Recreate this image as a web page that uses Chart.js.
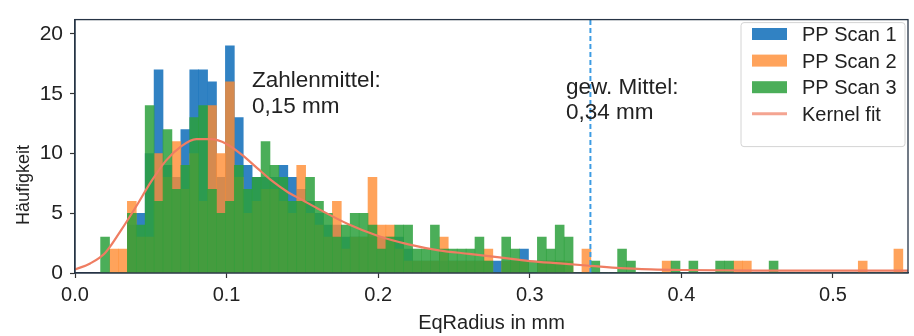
<!DOCTYPE html>
<html>
<head>
<meta charset="utf-8">
<script src="https://cdn.jsdelivr.net/npm/chart.js@4.4.0/dist/chart.umd.min.js"></script>
<style>
html, body { margin: 0; padding: 0; background: #fff; }
</style>
</head>
<body>
<canvas id="graph" width="914" height="336"></canvas>
<script>
// histogram bins (left edge of first bin, bin width in mm)
const binStart = 0.0169;
const binWidth = 0.00588;

const scan1 = [0,0,0,4,5,10,17,9,8,12,17,17,16,8,19,13,9,8,8,8,9,8,7,6,5,4,4,3,3,3,3,3,3,3,2,1,1,1,1,1,1,1,1,1,1,1,1,2,0,1,1,1,0,0,0,0,0,0,0,0,0,0,0,0,0,0,0,0,0,0,0,0,0,0,0,0,0,0,0,0,0,0,0,0,0,0,0,0,0,0,0];
const scan2 = [0,2,2,6,3,3,10,8,11,7,10,6,14,10,16,8,5,6,7,7,6,5,9,5,4,3,6,2,3,3,8,4,4,2,1,1,1,1,3,1,1,1,1,2,0,1,1,1,0,1,1,1,1,0,2,0,0,0,0,0,0,0,0,1,0,0,0,0,0,0,0,1,1,0,0,0,0,0,0,0,0,0,0,0,0,1,0,0,0,2,0];
const scan3 = [3,0,0,5,4,14,6,12,7,9,13,14,7,5,6,9,7,8,11,9,8,6,6,8,6,5,3,4,5,5,4,2,3,4,4,2,2,4,2,2,2,2,3,1,0,3,2,1,1,3,2,4,3,0,0,1,0,0,2,1,0,0,0,0,1,0,1,0,0,1,1,0,0,0,0,1,0,0,0,0,0,0,0,0,0,0,0,0,0,0,0];

const kernelX = [0,0.01,0.02,0.03,0.04,0.05,0.06,0.07,0.08,0.09,0.1,0.11,0.12,0.13,0.14,0.15,0.16,0.18,0.2,0.22,0.24,0.26,0.28,0.3,0.32,0.34,0.36,0.38,0.4,0.45,0.5,0.55];
const kernelY = [0.3,0.8,1.7,3.5,5.5,7.6,9.4,10.6,11.2,11.2,10.8,9.9,8.8,7.7,6.8,6.1,5.4,4.1,3.1,2.4,1.9,1.6,1.3,1.0,0.8,0.6,0.4,0.3,0.25,0.2,0.2,0.2];

const xTicks = [0, 0.1, 0.2, 0.3, 0.4, 0.5];
const yTicks = [0, 5, 10, 15, 20];

const seriesNames = ['PP Scan 1', 'PP Scan 2', 'PP Scan 3', 'Kernel fit'];
const meanNumber = 0.15;
const meanWeighted = 0.34;

const textFont = '"Liberation Sans", Arial, sans-serif';

const colBlue = 'rgba(31,119,190,0.92)';
const colOrange = 'rgba(255,140,50,0.8)';
const colGreen = 'rgba(44,160,60,0.85)';
const colKernel = '#ef7d62';
const colMean = '#3d9ce3';

function toPoints(counts) {
    return counts.map((c, i) => ({ x: binStart + (i + 0.5) * binWidth, y: c }));
}

const barOpts = { type: 'bar', grouped: false, barPercentage: 1, categoryPercentage: 1, borderWidth: 0 };

// frame, notes, y title and legend drawn on top
const extras = {
    id: 'extras',
    afterDatasetsDraw(chart) {
        const ctx = chart.ctx, a = chart.chartArea;
        const xs = chart.scales.x, ys = chart.scales.y;
        ctx.save();
        ctx.strokeStyle = '#263445';
        ctx.lineWidth = 1.3;
        ctx.strokeRect(a.left, a.top, a.right - a.left, a.bottom - a.top);

        ctx.fillStyle = '#222';
        ctx.font = '22.5px ' + textFont;
        ctx.textBaseline = 'alphabetic';
        ctx.textAlign = 'left';
        let tx = xs.getPixelForValue(0.1168), ty = ys.getPixelForValue(15.6);
        ctx.fillText('Zahlenmittel:', tx, ty);
        ctx.fillText(String(meanNumber).replace('.', ',') + ' mm', tx, ty + 26);
        tx = xs.getPixelForValue(0.3239);
        ty = ys.getPixelForValue(14.95);
        ctx.fillText('gew. Mittel:', tx, ty);
        ctx.fillText(String(meanWeighted).replace('.', ',') + ' mm', tx, ty + 25);

        // y title
        ctx.save();
        ctx.translate(29, 185);
        ctx.rotate(-Math.PI / 2);
        ctx.textAlign = 'center';
        ctx.font = '18px ' + textFont;
        ctx.fillText('Häufigkeit', 0, 0);
        ctx.restore();

        // legend box
        const lx = a.right - 167, ly = a.top + 3;
        ctx.fillStyle = 'rgba(255,255,255,0.9)';
        ctx.strokeStyle = '#d4d4d4';
        ctx.lineWidth = 1;
        ctx.beginPath();
        ctx.roundRect(lx, ly, 164, 124, 3);
        ctx.fill();
        ctx.stroke();
        const cols = [colBlue, colOrange, colGreen];
        ctx.font = '20px ' + textFont;
        ctx.textBaseline = 'alphabetic';
        seriesNames.forEach((name, i) => {
            const base = 41 + i * 26.6;
            const cy = base - 7;
            if (i < 3) {
                ctx.fillStyle = cols[i];
                ctx.fillRect(lx + 11, cy - 6, 35, 12);
            } else {
                ctx.strokeStyle = colKernel;
                ctx.globalAlpha = 0.7;
                ctx.lineWidth = 3;
                ctx.beginPath();
                ctx.moveTo(lx + 11, cy);
                ctx.lineTo(lx + 46, cy);
                ctx.stroke();
                ctx.globalAlpha = 1;
            }
            ctx.fillStyle = '#222';
            ctx.fillText(name, lx + 61, base);
        });
        ctx.restore();
    }
};

new Chart(document.getElementById('graph'), {
    type: 'bar',
    data: {
        datasets: [
            Object.assign({ label: seriesNames[0], data: toPoints(scan1), backgroundColor: colBlue, order: 4 }, barOpts),
            Object.assign({ label: seriesNames[1], data: toPoints(scan2), backgroundColor: colOrange, order: 3 }, barOpts),
            Object.assign({ label: seriesNames[2], data: toPoints(scan3), backgroundColor: colGreen, order: 2 }, barOpts),
            {
                type: 'line', label: seriesNames[3], order: 1,
                data: kernelX.map((x, i) => ({ x: x, y: kernelY[i] })),
                borderColor: colKernel, borderWidth: 2.2, pointRadius: 0, tension: 0.4, cubicInterpolationMode: 'monotone'
            },
            {
                type: 'line', label: 'gew. Mittel', order: 0,
                data: [{ x: meanWeighted, y: 0 }, { x: meanWeighted, y: 21.2 }],
                borderColor: colMean, borderWidth: 2, borderDash: [5, 3], pointRadius: 0
            }
        ]
    },
    options: {
        responsive: false,
        devicePixelRatio: 1,
        animation: false,
        layout: { padding: { top: 9, right: 6, left: 0, bottom: 0 } },
        plugins: { legend: { display: false }, tooltip: { enabled: false } },
        scales: {
            x: {
                type: 'linear', min: 0, max: 0.5495, offset: false,
                afterBuildTicks: s => { s.ticks = xTicks.map(v => ({ value: v })); },
                afterFit: s => { s.height = 63; },
                grid: { offset: false, drawOnChartArea: false, tickLength: 5, color: '#333', tickWidth: 1.2 },
                border: { color: '#263445', width: 1.3 },
                ticks: { color: '#222', padding: 5, maxRotation: 0, font: { family: textFont, size: 20 }, callback: v => v.toFixed(1) },
                title: { display: true, text: 'EqRadius in mm', color: '#222', font: { family: textFont, size: 20 }, padding: { top: 0, bottom: 1 } }
            },
            y: {
                min: 0, max: 21.2,
                afterBuildTicks: s => { s.ticks = yTicks.map(v => ({ value: v })); },
                afterFit: s => { s.width = 75; },
                grid: { drawOnChartArea: false, tickLength: 5, color: '#333', tickWidth: 1.2 },
                border: { color: '#263445', width: 1.3 },
                ticks: { color: '#222', padding: 7, font: { family: textFont, size: 21 } }
            }
        }
    },
    plugins: [extras]
});
</script>
</body>
</html>
